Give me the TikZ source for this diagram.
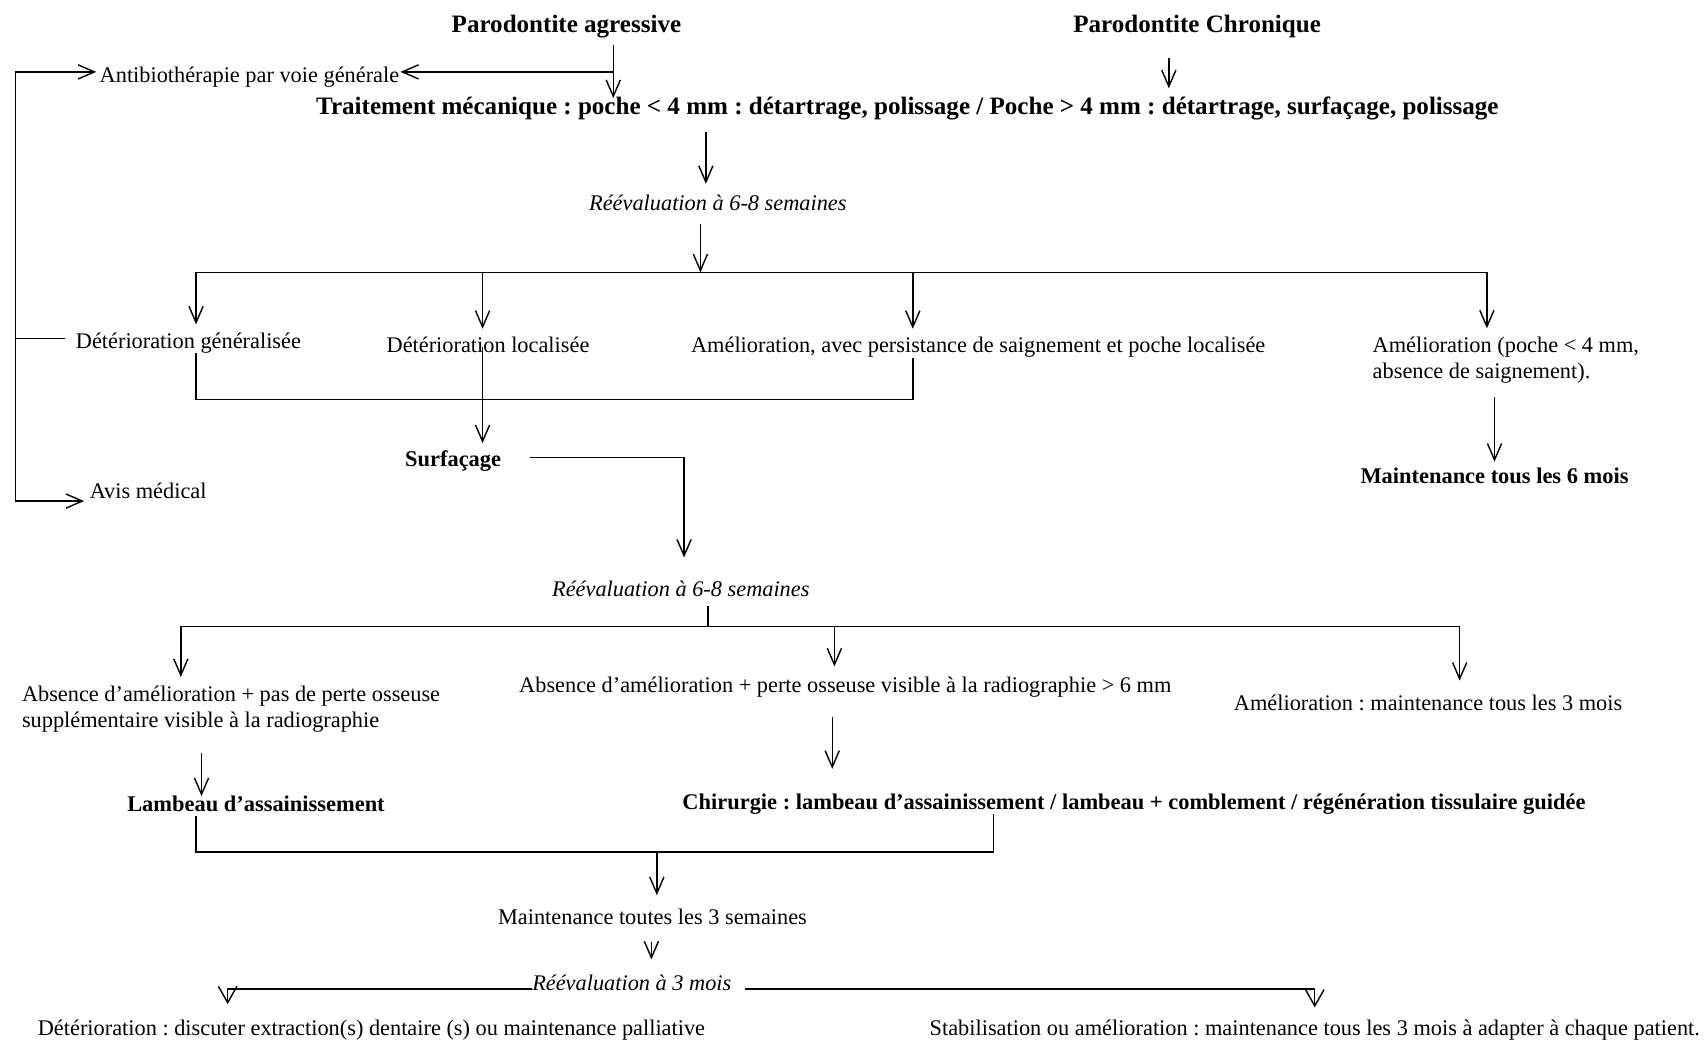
\documentclass[tikz,border=0pt]{standalone}
\usepackage{fontspec}
\setmainfont{Liberation Serif}
\usetikzlibrary{arrows.meta}
\frenchspacing
\begin{document}
\begin{tikzpicture}[x=1pt,y=-1pt,
  base/.style={inner sep=0pt, text height=14pt, text depth=4pt, yshift=-3pt},
  txt/.style={base, font=\fontsize{20.5}{24}\selectfont\frenchspacing},
  bld/.style={inner sep=0pt, text height=15pt, text depth=4.5pt, yshift=-3pt, font=\fontsize{23}{27}\selectfont\bfseries\frenchspacing},
  bldb/.style={inner sep=0pt, text height=14pt, text depth=4pt, yshift=-3pt, font=\fontsize{20.6}{24}\selectfont\bfseries\frenchspacing},
  itl/.style={base, font=\fontsize{20.5}{24}\selectfont\itshape\frenchspacing},
  multi/.style={inner sep=0pt, align=left, anchor=west, yshift=-3pt, font=\fontsize{20.5}{24}\selectfont\frenchspacing},
  ln/.style={line width=1.3pt},
  arr/.style={ln, -{Straight Barb[length=15pt,width=13pt,line width=1.3pt]}},
  arrw/.style={ln, -{Straight Barb[length=15pt,width=17pt,line width=1.3pt]}},
]
\useasboundingbox (0,0) rectangle (1568,957);
\fill[white] (0,0) rectangle (1568,957);

% ---------- nodes ----------
\node[bld] (pa) at (520,22) {Parodontite agressive};
\node[bld] (pc) at (1099,22) {Parodontite Chronique};
\node[txt] (ab) at (229,68) {Antibiothérapie par voie générale};
\node[bld] (tm) at (833,97) {Traitement mécanique : poche < 4 mm : détartrage, polissage / Poche > 4 mm : détartrage, surfaçage, polissage};
\node[itl] (re1) at (659,185) {Réévaluation à 6-8 semaines};
\node[txt] (dg) at (173,312) {Détérioration généralisée};
\node[txt] (dl) at (448,316) {Détérioration localisée};
\node[txt] (ap) at (898,316) {Amélioration, avec persistance de saignement et poche localisée};
\node[multi] (am) at (1260,328) {Amélioration (poche < 4 mm,\\absence de saignement).};
\node[bldb] (ms) at (1372,436) {Maintenance tous les 6 mois};
\node[bldb] (sf) at (416,420) {Surfaçage};
\node[txt] (av) at (136,450) {Avis médical};
\node[itl] (re2) at (625,540) {Réévaluation à 6-8 semaines};
\node[multi] (ab1) at (20,648) {Absence d’amélioration + pas de perte osseuse\\supplémentaire visible à la radiographie};
\node[txt] (ab2) at (776,628) {Absence d’amélioration + perte osseuse visible à la radiographie > 6 mm};
\node[txt] (am3) at (1311,644) {Amélioration : maintenance tous les 3 mois};
\node[bldb] (lam) at (235,737) {Lambeau d’assainissement};
\node[bldb] (chi) at (1041,735) {Chirurgie : lambeau d’assainissement / lambeau + comblement / régénération tissulaire guidée};
\node[txt] (mt) at (599,841) {Maintenance toutes les 3 semaines};
\node[itl] (re3) at (580,901) {Réévaluation à 3 mois};
\node[txt] (det) at (341,943) {Détérioration : discuter extraction(s) dentaire (s) ou maintenance palliative};
\node[txt] (stab) at (1207,943) {Stabilisation ou amélioration : maintenance tous les 3 mois à adapter à chaque patient.};

% ---------- coordinates ----------
\coordinate (jA) at (563,66);
\coordinate (lT) at (14,66);
\coordinate (lB) at (14,460);
\coordinate (lD) at (14,311);
\coordinate (lDe) at (60,311);
\coordinate (xC) at (1073,0);
\coordinate (xT) at (648,0);
\coordinate (xR) at (1372,0);
\coordinate (b1) at (643,250);
\coordinate (b1L) at (180,250);
\coordinate (b1a) at (443,250);
\coordinate (b1b) at (838,250);
\coordinate (b1R) at (1365,250);
\coordinate (k1L) at (180,367);
\coordinate (k1R) at (838,367);
\coordinate (s1) at (628,420);
\coordinate (b2) at (650,575);
\coordinate (b2L) at (166,575);
\coordinate (b2M) at (766,575);
\coordinate (b2R) at (1340,575);
\coordinate (xL) at (185,0);
\coordinate (xM) at (764,0);
\coordinate (k2L) at (180,782);
\coordinate (k2R) at (912,782);
\coordinate (k2M) at (603,782);
\coordinate (xN) at (598,0);
\coordinate (rL) at (209,908);
\coordinate (rR) at (1207,908);

% ---------- connectors ----------
\draw[arr, shorten <=6pt] (pa.south -| jA) -- (tm.north -| jA);
\draw[arr, shorten >=1pt] (jA) -- (ab.east |- jA);
\draw[ln] (lT) -- (lB);
\draw[arr, shorten >=3pt] (lT) -- (ab.west |- lT);
\draw[arr, shorten >=5pt] (lB) -- (av.west |- lB);
\draw[ln] (lD) -- (lDe);

\draw[arr, shorten <=18pt, shorten >=9pt] (pc.south -| xC) -- (tm.north -| xC);
\draw[arr, shorten <=11pt, shorten >=10pt] (tm.south -| xT) -- (re1.north -| xT);
\draw[arr, shorten <=8pt] (re1.south -| b1) -- (b1);
\draw[ln] (b1L) -- (b1R);
\draw[arr, shorten >=8pt] (b1L) -- (dg.north -| b1L);
\draw[arr, shorten >=8pt] (b1a) -- (dl.north -| b1a);
\draw[arr, shorten >=8pt] (b1b) -- (ap.north -| b1b);
\draw[arr, shorten >=8pt] (b1R) -- (am.north -| b1R);
\draw[arr, shorten <=12pt, shorten >=6pt] (am.south -| xR) -- (ms.north -| xR);

\draw[ln] (dg.south -| k1L) -- (k1L) -- (k1R) -- (ap.south -| k1R);
\draw[arr, shorten >=7pt] (dl.center -| b1a) -- (sf.north -| b1a);
\draw[arr, shorten <=26pt, shorten >=22pt] (sf.east |- s1) -- (s1) -- (re2.north -| s1);

\draw[ln, shorten <=4pt] (re2.south -| b2) -- (b2);
\draw[ln] (b2L) -- (b2R);
\draw[arr, shorten >=8pt] (b2L) -- (ab1.north -| b2L);
\draw[arr, shorten >=10pt] (b2M) -- (ab2.north -| b2M);
\draw[arr, shorten >=13pt] (b2R) -- (am3.north -| b2R);

\draw[arr, shorten <=19pt] (ab1.south -| xL) -- (lam.north -| xL);
\draw[arr, shorten <=18pt, shorten >=23pt] (ab2.south -| xM) -- (chi.north -| xM);

\draw[ln] (lam.south -| k2L) -- (k2L) -- (k2R) -- (chi.south -| k2R);
\draw[arr, shorten >=13pt] (k2M) -- (mt.north -| k2M);
\draw[arr, shorten <=12pt, shorten >=14pt] (mt.south -| xN) -- (re3.north -| xN);
\draw[arrw, shorten >=15pt] (re3.west |- rL) -- (rL) -- (det.north -| rL);
\draw[arrw, shorten <=12pt, shorten >=12pt] (re3.east |- rR) -- (rR) -- (stab.north -| rR);
\end{tikzpicture}
\end{document}
